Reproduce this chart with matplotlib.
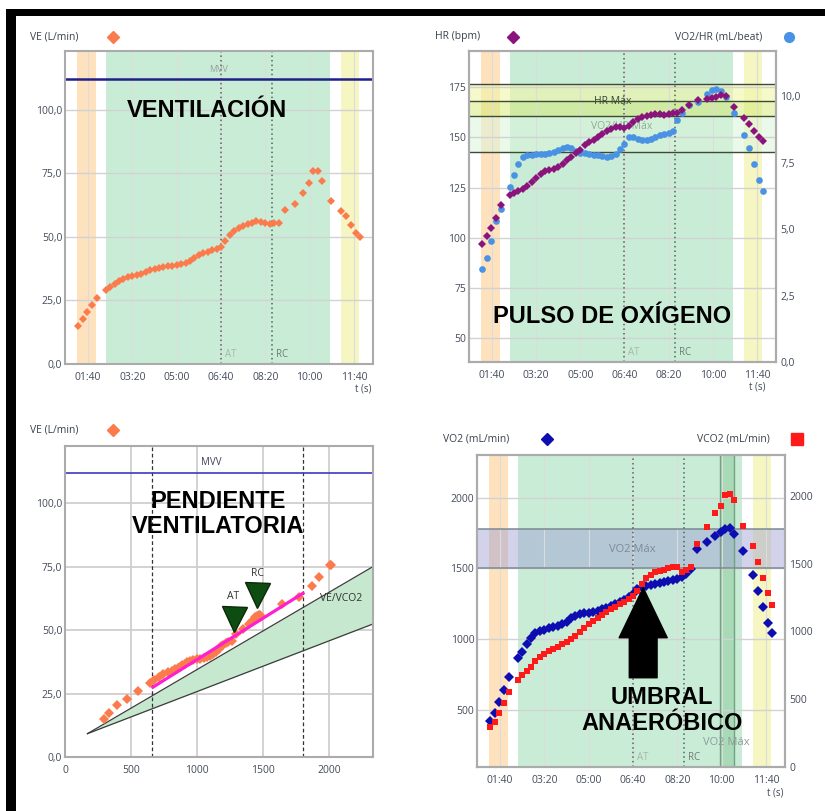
import matplotlib.pyplot as plt
from matplotlib.lines import Line2D
from matplotlib.patches import Rectangle
from matplotlib.ticker import FuncFormatter

plt.rcParams['font.family'] = ['Open Sans', 'DejaVu Sans']

# sample times (s)
t = [78, 88, 98, 109, 120,
     140, 150, 160, 170, 180, 190, 200, 210, 220, 230,
     240, 250, 260, 270, 280, 290, 300, 310, 320, 330,
     340, 350, 360, 370, 380, 390, 400, 410, 420, 430,
     440, 450, 460, 470, 480, 490, 500, 510, 520, 530,
     545, 566, 586, 598, 608, 619, 629,
     648, 670, 682, 694, 705, 713]

ve = [15.0, 17.5, 20.3, 23.0, 26.0,
      29.0, 30.3, 31.5, 32.5, 33.3, 34.0, 34.6, 35.0, 35.5, 36.2,
      36.8, 37.3, 37.8, 38.3, 38.5, 38.7, 38.9, 39.2, 39.6, 40.4,
      41.5, 42.7, 43.6, 44.2, 44.8, 45.3, 45.8, 48.5, 50.6, 52.3,
      53.4, 54.2, 54.9, 55.5, 56.0, 55.8, 55.3, 55.0, 55.3, 55.6,
      60.4, 63.0, 67.2, 71.0, 75.7, 75.7, 72.0,
      64.2, 60.3, 58.0, 54.8, 51.5, 49.8]

hr = [97, 101, 105, 110, 116.5,
      121.5, 122.5, 123.5, 124.5, 126, 128, 130, 132, 133.5, 134,
      134.5, 135.5, 137, 139, 140.5, 142.5, 144, 146, 147.5, 148.8,
      150, 151.5, 153, 154.3, 155.3, 155, 154.5, 155.5, 157.5, 159,
      160.2, 160.8, 161.3, 161.5, 161.5, 161.2, 161.5, 162, 162.3, 163.5,
      166.3, 168.5, 169, 169.5, 170.2, 171, 170.5,
      165.3, 159.5, 156.5, 153.2, 150.2, 148]

vo2_hr = [3.5, 3.9, 4.55, 5.3, 5.75,
          6.6, 7.05, 7.45, 7.7, 7.8, 7.8, 7.82, 7.82, 7.84, 7.86,
          7.9, 7.98, 8.05, 8.08, 8.05, 7.93, 7.88, 7.86, 7.83, 7.8,
          7.77, 7.75, 7.73, 7.74, 7.82, 8.0, 8.2, 8.45, 8.48, 8.38,
          8.35, 8.36, 8.4, 8.47, 8.53, 8.58, 8.63, 8.7, 9.1, 9.35,
          9.65, 9.78, 10.1, 10.22, 10.28, 10.2, 9.98,
          9.35, 8.55, 8.05, 7.45, 6.85, 6.45]

vo2 = [424, 480, 560, 645, 736,
       866, 910, 965, 1010, 1043, 1058, 1068, 1078, 1088, 1097,
       1105, 1125, 1148, 1165, 1182, 1187, 1189, 1195, 1203, 1211,
       1222, 1235, 1248, 1262, 1278, 1297, 1320, 1355, 1366, 1373,
       1381, 1390, 1397, 1404, 1412, 1420, 1428, 1440, 1458, 1495,
       1634, 1690, 1728, 1755, 1775, 1785, 1740,
       1620, 1455, 1343, 1225, 1115, 1043]

vco2 = [295, 335, 395, 470, 553,
        640, 675, 708, 740, 780, 808, 833, 853, 872, 888,
        905, 922, 943, 965, 995, 1022, 1052, 1077, 1100, 1122,
        1145, 1165, 1182, 1198, 1217, 1235, 1262, 1295, 1350, 1390,
        1418, 1435, 1443, 1455, 1467, 1474, 1476, 1440, 1455, 1475,
        1644, 1771, 1870, 1924, 2005, 2013, 1965,
        1776, 1630, 1513, 1395, 1285, 1193]

time_ticks = [100, 200, 300, 400, 500, 600, 700]
at_time, rc_time = 400, 515
warmup = (76, 119)
exercise = (140, 645)
recovery = (670, 712)
vo2max_window = (597, 627)
peak_time = 619
mvv = 112
hr_max_band = (160.5, 168, 176.5)
vo2hr_max_band = (7.9, 9.25)
vo2_max_band = (1500, 1775)
slope_range = (657, 1800)
slope_x = [665, 1800]
slope_y = [27.5, 64.5]
wedge_x = [170, 2330]
wedge_upper = [9.2, 75.0]
wedge_lower = [9.2, 52.4]
thr_names = ['AT', 'RC']
thr_vco2 = [1275, 1452]
thr_ve = [54.4, 63.8]
arrow_tip = (423, 1364)

ORANGE_BAND = '#fde2bd'
GREEN_BAND = '#c9ecd6'
YELLOW_BAND = '#f6f6c2'
VE_C = '#fb7b4c'
HR_C = '#8a137c'
PULSE_C = '#4a92e4'
VO2_C = '#0d0db2'
VCO2_C = '#ff1a1a'
TICK_C = '#444b5a'

W, H = 825, 811
fig = plt.figure(figsize=(W / 100, H / 100), dpi=100)


def box(l, tp, r, b):
    return [l / W, 1 - b / H, (r - l) / W, (b - tp) / H]


def fpos(x, y):
    return x / W, 1 - y / H


def mmss(v, pos):
    v = int(round(v))
    return f"{v // 60:02d}:{v % 60:02d}"


def comma1(v, pos):
    return f"{v:.1f}".replace('.', ',')


def style(ax, grid_x=True):
    for s in ax.spines.values():
        s.set_color('#ababab')
        s.set_linewidth(1.5)
    ax.tick_params(length=0, labelsize=7.5, colors=TICK_C)
    ax.tick_params(axis='x', pad=6)
    ax.tick_params(axis='y', pad=2)
    ax.grid(True, axis='y', color='#d2d2d2', lw=1)
    if grid_x:
        ax.grid(True, axis='x', color='#dcdcdc', lw=0.8)
    ax.set_axisbelow(True)


def time_panel(ax):
    ax.axvspan(*warmup, color=ORANGE_BAND, lw=0, zorder=0.2)
    ax.axvspan(*exercise, color=GREEN_BAND, lw=0, zorder=0.2)
    ax.axvspan(*recovery, color=YELLOW_BAND, lw=0, zorder=0.2)
    for x in (at_time, rc_time):
        ax.axvline(x, color='#56625a', ls=(0, (1, 2)), lw=1.1, zorder=1)
    tr = ax.get_xaxis_transform()
    ax.text(at_time + 9, 0.012, 'AT', transform=tr, fontsize=7,
            color='#a6b8aa', va='bottom')
    ax.text(rc_time + 9, 0.012, 'RC', transform=tr, fontsize=7,
            color='#6f7b72', va='bottom')
    ax.set_xlim(48, 743)
    ax.set_xticks(time_ticks)
    ax.xaxis.set_major_formatter(FuncFormatter(mmss))


def header(x, y, label, marker, color, ms, mx, ha='left'):
    fig.text(*fpos(x, y), label, ha=ha, va='center', fontsize=7.5,
             color='#3b404c')
    fig.add_artist(Line2D([mx / W], [1 - y / H], marker=marker, color=color,
                          ms=ms, ls='none', transform=fig.transFigure))


title_kw = dict(family='Liberation Sans', weight='bold', fontsize=17,
                color='black', ha='center', va='center', zorder=10)

# ---- panel 1 : VE vs time
ax1 = fig.add_axes(box(65, 51, 373, 364))
style(ax1)
time_panel(ax1)
ax1.axhline(mvv, color='#20208a', lw=1.8, zorder=2)
ax1.text(0.5, mvv + 2, 'MVV', transform=ax1.get_yaxis_transform(),
         ha='center', va='bottom', fontsize=6.5, color='#9aa09a')
ax1.plot(t, ve, 'D', color=VE_C, ms=4.4, mew=0, zorder=3)
ax1.set_ylim(0, 123)
ax1.set_yticks([0, 25, 50, 75, 100])
ax1.yaxis.set_major_formatter(FuncFormatter(comma1))
ax1.text(0.461, 0.811, 'VENTILACIÓN', transform=ax1.transAxes, **title_kw)
header(30, 37, 'VE (L/min)', 'D', VE_C, 6, 113)
fig.text(*fpos(363, 389), 't (s)', ha='center', va='center', fontsize=7,
         color=TICK_C)

# ---- panel 2 : HR and O2 pulse
ax2 = fig.add_axes(box(469, 51, 776, 362))
style(ax2)
time_panel(ax2)
ax2.set_ylim(38.3, 193)
ax2.set_yticks([50, 75, 100, 125, 150, 175])
ax2r = ax2.twinx()
ax2r.set_ylim(0, 11.7)
ax2r.set_yticks([0, 2.5, 5, 7.5, 10])
ax2r.yaxis.set_major_formatter(FuncFormatter(comma1))
for s in ax2r.spines.values():
    s.set_color('#ababab')
    s.set_linewidth(1.5)
ax2r.tick_params(length=0, labelsize=7.5, colors=TICK_C, pad=3)


def right_to_left(v):
    lo_l, hi_l = ax2.get_ylim()
    lo_r, hi_r = ax2r.get_ylim()
    return lo_l + (v - lo_r) / (hi_r - lo_r) * (hi_l - lo_l)


ax2.axhspan(hr_max_band[1], hr_max_band[2], color='#f0f6a8', alpha=0.6,
            lw=0, zorder=0.3)
ax2.axhspan(hr_max_band[0], hr_max_band[1], color='#d3ea72', alpha=0.5,
            lw=0, zorder=0.3)
ax2.axhspan(right_to_left(vo2hr_max_band[0]), right_to_left(vo2hr_max_band[1]),
            color='#dcf5dc', alpha=0.55, lw=0, zorder=0.3)
for v in (hr_max_band[0], hr_max_band[1], hr_max_band[2],
          right_to_left(vo2hr_max_band[0])):
    ax2.axhline(v, color='#3d4b36', lw=1, zorder=0.6)
ax2.text(0.469, hr_max_band[1], 'HR Máx', transform=ax2.get_yaxis_transform(),
         ha='center', va='center', fontsize=7.5, color='#3a4833', zorder=4)
ax2.text(0.498, 155.4, 'VO2/HR Máx', transform=ax2.get_yaxis_transform(),
         ha='center', va='center', fontsize=7.5, color='#8fae95', zorder=4)
ax2r.plot(t, vo2_hr, 'o', color=PULSE_C, ms=4.8, mew=0, zorder=3)
ax2r.plot(t, hr, 'D', color=HR_C, ms=4.2, mew=0, zorder=4,
          transform=ax2.transData)
ax2r.text(0.465, 0.146, 'PULSO DE OXÍGENO', transform=ax2.transAxes, **title_kw)
header(435, 37, 'HR (bpm)', 'D', HR_C, 6, 513)
header(762, 37, 'VO2/HR (mL/beat)', 'o', PULSE_C, 7, 789, ha='right')
fig.text(*fpos(757, 387), 't (s)', ha='center', va='center', fontsize=7,
         color=TICK_C)

# ---- panel 3 : VE vs VCO2
ax3 = fig.add_axes(box(65, 446, 373, 757))
style(ax3)
ax3.grid(True, color='#cfcfcf', lw=1.3)
ax3.fill_between(wedge_x, wedge_lower, wedge_upper, color='#c6e8cf', lw=0,
                 zorder=1)
ax3.plot(wedge_x, wedge_upper, color='#3c3c3c', lw=0.9, zorder=2)
ax3.plot(wedge_x, wedge_lower, color='#3c3c3c', lw=0.9, zorder=2)
for x in slope_range:
    ax3.axvline(x, color='#333333', ls=(0, (3, 2)), lw=0.9, zorder=2)
ax3.axhline(mvv, color='#3a3ac0', lw=1.2, zorder=2)
ax3.text(0.475, mvv + 2, 'MVV', transform=ax3.get_yaxis_transform(),
         ha='center', va='bottom', fontsize=7, color='#404058')
ex = [i for i, ti in enumerate(t) if ti <= peak_time]
ax3.plot([vco2[i] for i in ex], [ve[i] for i in ex], 'D', color=VE_C,
         ms=5, mew=0, zorder=3)
ax3.plot(slope_x, slope_y, color='#ff1fd0', lw=2.3, zorder=4)
for name, x, y in zip(thr_names, thr_vco2, thr_ve):
    ax3.plot(x, y, 'v', color='#0e4d12', mec='#0a2a0a', ms=18, zorder=5)
    ax3.text(x, y + 6.5, name, ha='center', va='bottom', fontsize=7.5,
             color='#333333', zorder=5)
ax3.text(2090, 62.5, 'VE/VCO2', ha='center', va='center', fontsize=7.5,
         color='#303030', zorder=5)
ax3.set_xlim(0, 2330)
ax3.set_ylim(0, 122.5)
ax3.set_xticks([0, 500, 1000, 1500, 2000])
ax3.set_yticks([0, 25, 50, 75, 100])
ax3.yaxis.set_major_formatter(FuncFormatter(comma1))
ax3.text(0.497, 0.781, 'PENDIENTE\nVENTILATORIA', transform=ax3.transAxes,
         linespacing=1.15, **title_kw)
header(30, 430, 'VE (L/min)', 'D', VE_C, 6, 113)

# ---- panel 4 : VO2 and VCO2 vs time
ax4 = fig.add_axes(box(477, 455, 785, 767))
style(ax4)
time_panel(ax4)
ax4.axvspan(*vo2max_window, color='#94cfa4', alpha=0.6, lw=0, zorder=0.3)
for x in vo2max_window:
    ax4.axvline(x, color='#74a083', lw=1, zorder=0.6)
ax4.axhspan(*vo2_max_band, color='#9c9cd4', alpha=0.45, lw=0, zorder=0.35)
for v in vo2_max_band:
    ax4.axhline(v, color='#7c8a92', lw=1.1, zorder=0.6)
ax4.text(0.503, 1634, 'VO2 Máx', transform=ax4.get_yaxis_transform(),
         ha='center', va='center', fontsize=8, color='#7d8a9a', zorder=4)
ax4.text(610, 0.077, 'VO2 Máx', transform=ax4.get_xaxis_transform(),
         ha='center', va='center', fontsize=8, color='#8c9c9c', zorder=4)
ax4.plot(t, vo2, 'D', color=VO2_C, ms=4.6, mew=0, zorder=3)
ax4.set_ylim(100, 2300)
ax4.set_yticks([500, 1000, 1500, 2000])
ax4r = ax4.twinx()
ax4r.set_ylim(0, 2300)
ax4r.set_yticks([0, 500, 1000, 1500, 2000])
for s in ax4r.spines.values():
    s.set_color('#ababab')
    s.set_linewidth(1.5)
ax4r.tick_params(length=0, labelsize=7.5, colors=TICK_C, pad=3)
ax4r.plot(t, vco2, 's', color=VCO2_C, ms=4.6, mew=0, zorder=3)
ax4r.annotate('', xy=arrow_tip, xycoords=ax4.transData, xytext=(0, -90),
              textcoords='offset pixels', zorder=8,
              arrowprops=dict(arrowstyle='simple,head_length=3.6,'
                              'head_width=3.46,tail_width=2.0',
                              mutation_scale=10, color='black',
                              shrinkA=0, shrinkB=0))
ax4r.text(0.60, 0.18, 'UMBRAL\nANAERÓBICO', transform=ax4.transAxes,
          linespacing=1.15, **title_kw)
header(443, 439, 'VO2 (mL/min)', 'D', VO2_C, 6.5, 547)
header(770, 439, 'VCO2 (mL/min)', 's', VCO2_C, 8, 797, ha='right')
fig.text(*fpos(775, 793), 't (s)', ha='center', va='center', fontsize=7,
         color=TICK_C)

# black frame on top and left edges
fig.add_artist(Rectangle((6 / W, 0), 10 / W, (H - 9) / H,
                         transform=fig.transFigure, color='black', lw=0))
fig.add_artist(Rectangle((6 / W, 1 - 16 / H), (W - 6) / W, 7 / H,
                         transform=fig.transFigure, color='black', lw=0))

fig.savefig('out.png', dpi=100)
